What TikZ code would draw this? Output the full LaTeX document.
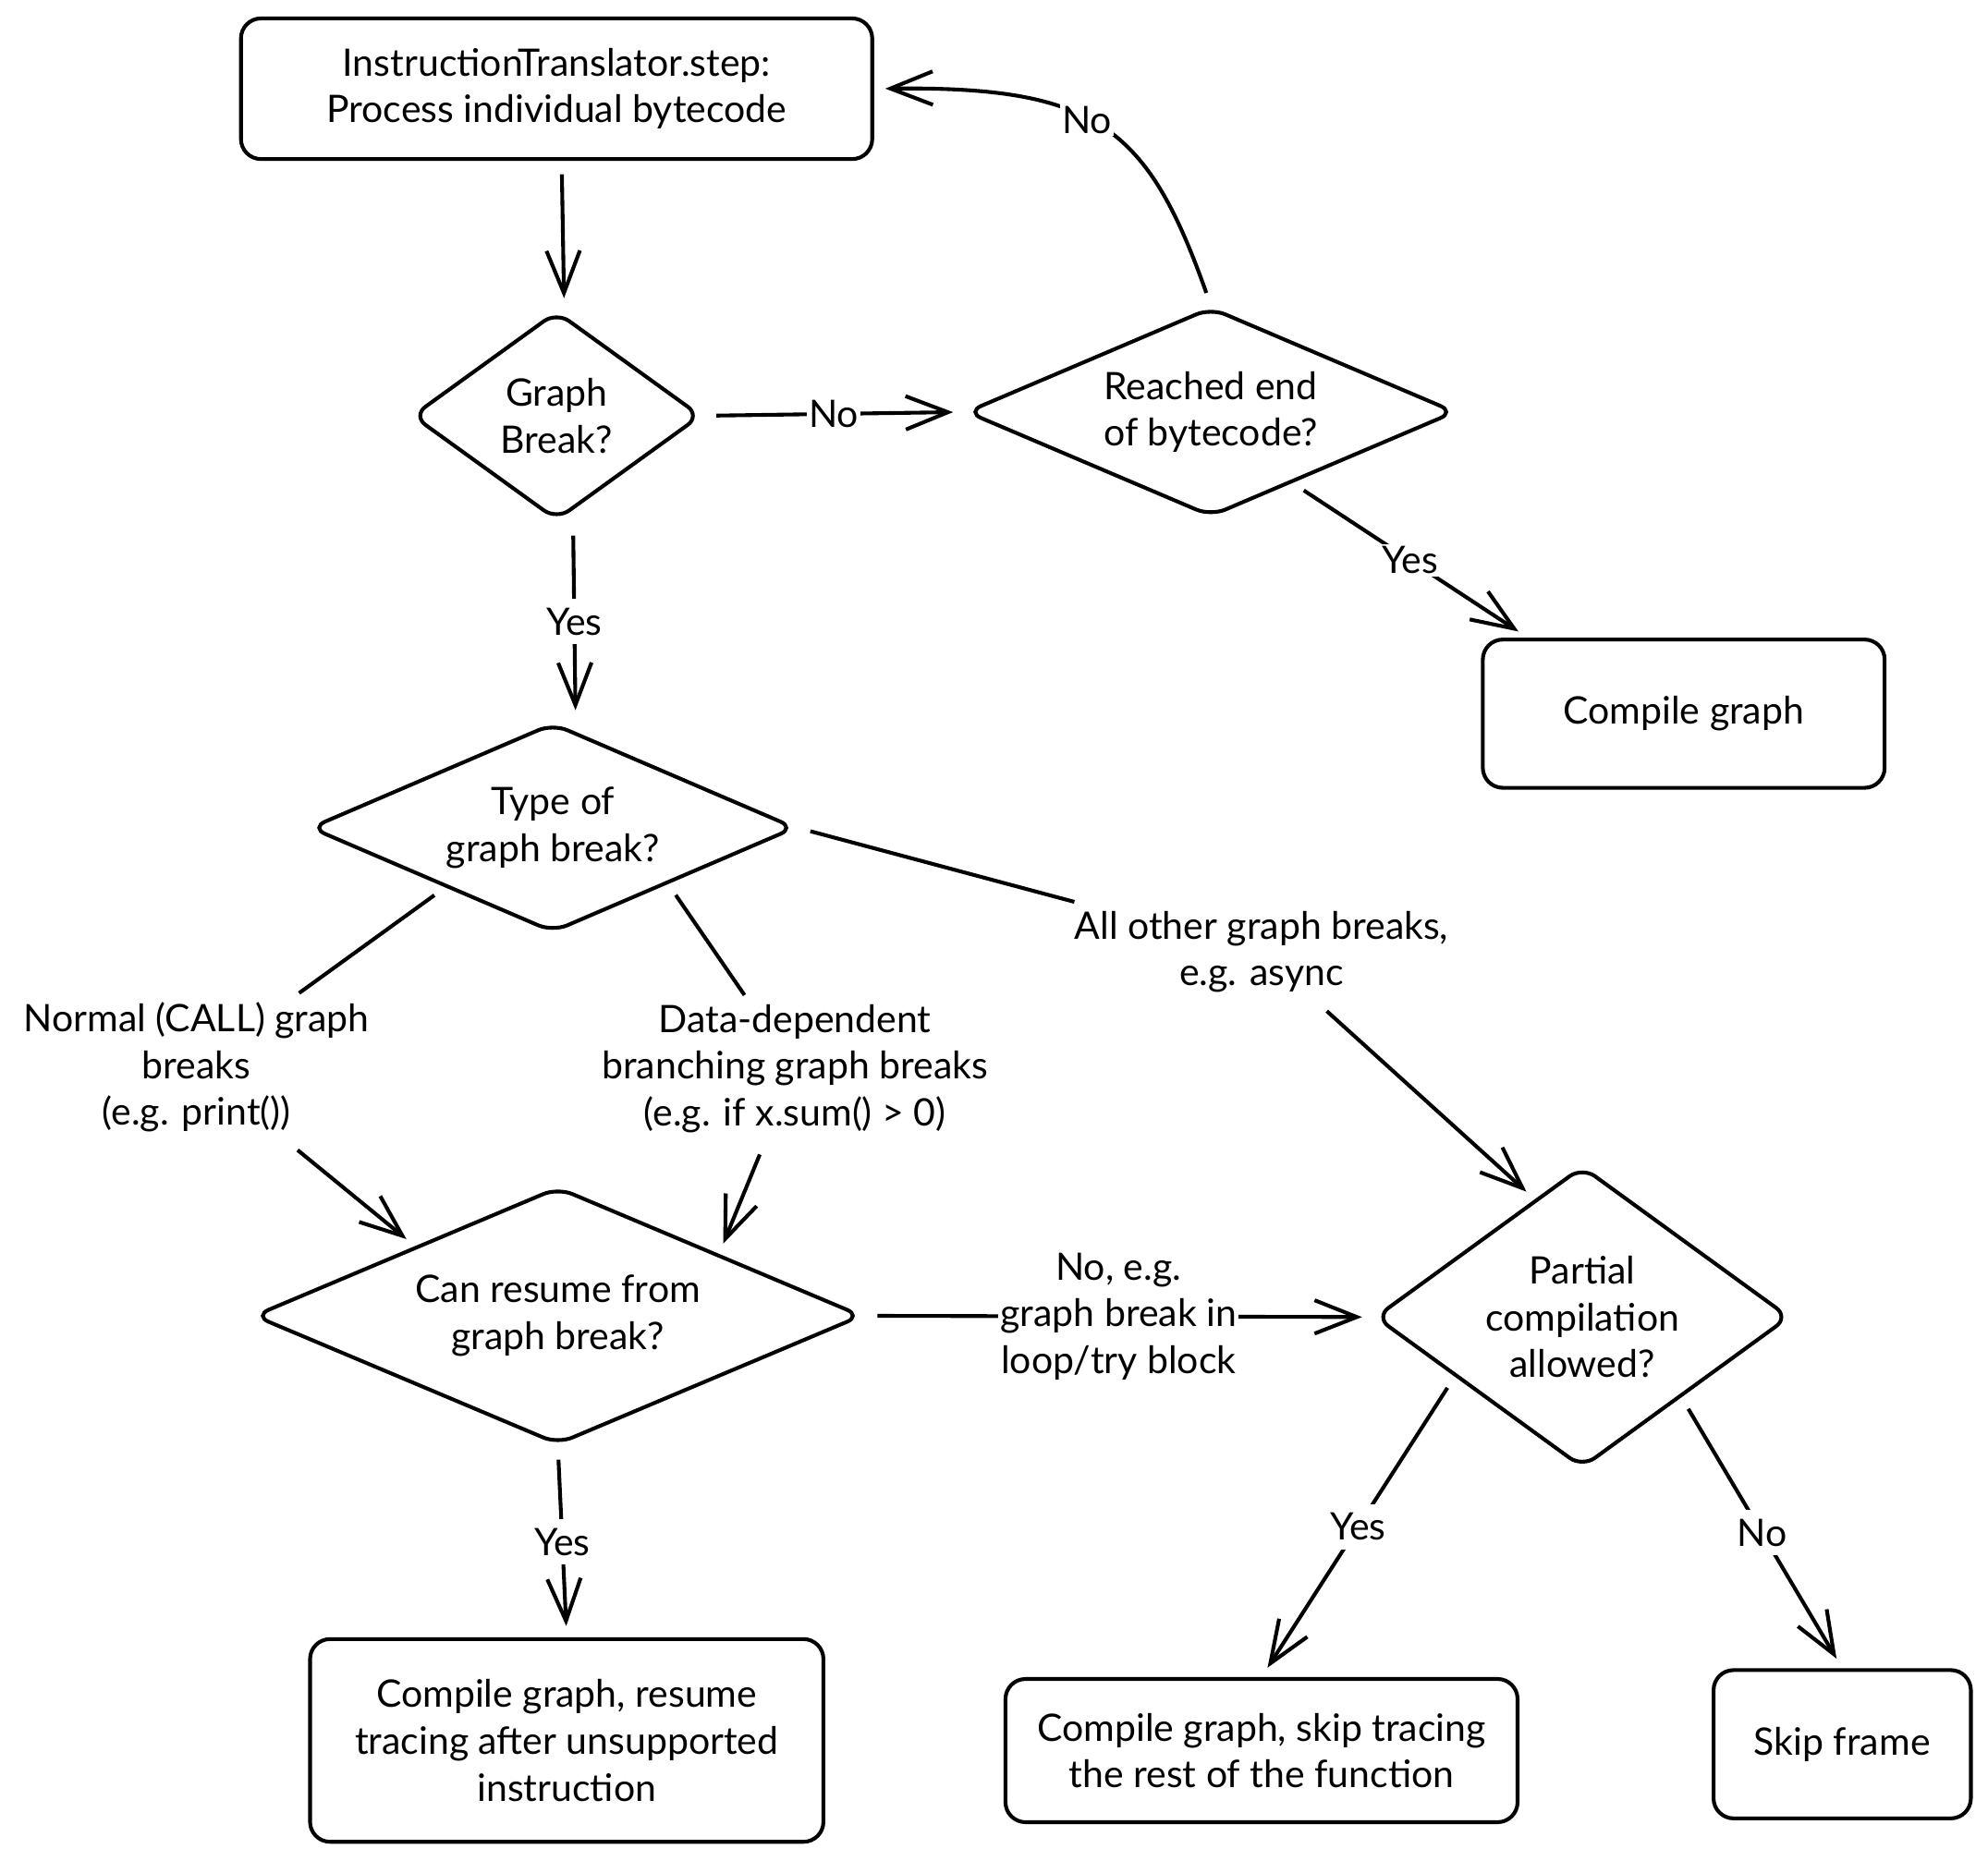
\documentclass[tikz,border=0pt]{standalone}
\usepackage{fontspec}
\setmainfont{Lato}
\usepackage{tikz}
\usetikzlibrary{positioning, arrows.meta, shapes.geometric}

\tikzset{
  procbox/.style={draw, rounded corners=9pt, line width=1.7pt, align=center, inner sep=0pt},
  decision/.style={draw, diamond, rounded corners=7pt, line width=1.7pt, align=center, inner sep=0pt},
  link/.style={line width=1.7pt, shorten <=6pt},
  flow/.style={link, -{Straight Barb[length=19pt,width=15pt]}, shorten >=5pt},
  edgelbl/.style={fill=white, align=center, inner sep=4pt},
}

\begin{document}
\begin{tikzpicture}[x=0.02cm, y=-0.02cm, font=\fontsize{17}{21}\selectfont]
  \useasboundingbox (0,0) rectangle (1568,1468);

  % steps and decisions
  \node[procbox, minimum width=9.96cm, minimum height=2.22cm] (step) at (439,70)
    {InstructionTranslator.step:\\Process individual bytecode};
  \node[decision, aspect=1.38, minimum width=4.56cm, minimum height=3.3cm] (gbreak) at (439,328)
    {Graph\\Break?};
  \node[decision, aspect=2.34, minimum width=7.72cm, minimum height=3.3cm] (endbc) at (955,325)
    {Reached end\\of bytecode?};
  \node[procbox, minimum width=6.34cm, minimum height=2.34cm] (compile) at (1328,563)
    {Compile graph};
  \node[decision, aspect=2.32, minimum width=7.66cm, minimum height=3.3cm] (gbtype) at (436,653)
    {Type of\\graph break?};
  \node[decision, aspect=2.36, minimum width=9.6cm, minimum height=4.06cm] (canresume) at (440,1038)
    {Can resume from\\graph break?};
  \node[decision, aspect=1.37, minimum width=6.54cm, minimum height=4.76cm] (partial) at (1248,1039)
    {Partial\\compilation\\allowed?};
  \node[procbox, minimum width=8.1cm, minimum height=3.2cm] (resumebox) at (447,1373)
    {Compile graph, resume\\tracing after unsupported\\instruction};
  \node[procbox, minimum width=8.08cm, minimum height=2.26cm] (skiptrace) at (995,1381)
    {Compile graph, skip tracing\\the rest of the function};
  \node[procbox, minimum width=4.06cm, minimum height=2.34cm] (skipframe) at (1453,1376)
    {Skip frame};

  % branch labels
  \node[edgelbl] (lblcall) at (155,842) {Normal (CALL) graph\\breaks\\(e.g. print())};
  \node[edgelbl] (lbldata) at (627,843) {Data-dependent\\branching graph breaks\\(e.g. if x.sum() > 0)};
  \node[edgelbl] (lblother) at (995,751) {All other graph breaks,\\e.g. async};

  % arrows
  \draw[flow] ([xshift=0.08cm]step.south) -- ([xshift=0.12cm]gbreak.north);
  \draw[flow] (gbreak.east) -- node[edgelbl, inner sep=1pt] {No} (endbc.west);
  \draw[flow] ([xshift=0.26cm]gbreak.south) -- node[edgelbl] {Yes} ([xshift=0.36cm]gbtype.north);
  \draw[flow] (endbc.north) .. controls (905,100) and (865,68) .. node[edgelbl, pos=0.55, inner sep=1pt] {No} (step.east);
  \draw[flow] (endbc.-41) -- node[edgelbl, inner sep=1pt] {Yes} (compile.154);

  \draw[link] (gbtype.209) -- (lblcall);
  \draw[flow] (lblcall) -- (canresume.154);
  \draw[link] (gbtype.-26) -- (lbldata);
  \draw[flow] (lbldata) -- (canresume.21);
  \draw[link] (gbtype.east) -- (lblother);
  \draw[flow] (lblother) -- (partial.112);

  \draw[flow] (canresume.east) -- node[edgelbl, inner sep=1pt] {No, e.g.\\graph break in\\loop/try block} (partial.west);
  \draw[flow] (canresume.south) -- node[edgelbl] {Yes} (resumebox.north);
  \draw[flow] (partial.205) -- node[edgelbl] {Yes} (skiptrace.north);
  \draw[flow] (partial.-39) -- node[edgelbl] {No} (skipframe.north);
\end{tikzpicture}
\end{document}
